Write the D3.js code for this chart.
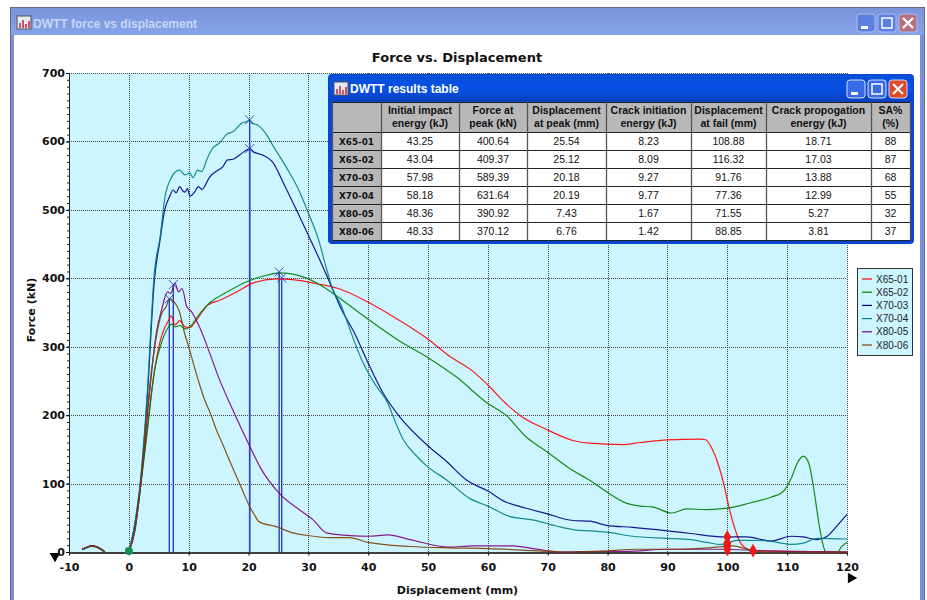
<!DOCTYPE html>
<html><head><meta charset="utf-8">
<style>html,body{margin:0;padding:0;background:#fff}svg{display:block}</style>
<script src="https://cdn.jsdelivr.net/npm/d3@7"></script></head><body>
<svg id="c" width="927" height="600"></svg>
<script>
const seriesNames = ["X65-01","X65-02","X70-03","X70-04","X80-05","X80-06"];
const seriesColors = ["#ff0000","#008000","#000080","#008080","#800080","#804000"];
const preload = [[-7.8,4],[-7,7],[-6.2,9],[-5.5,8],[-4.8,5],[-4,0]];
const x6501 = [[0,0],[1,35],[2,100],[3,175],[4,247],[5.2,307],[6,328],[6.5,336],[7.1,345],[7.7,332],[8.5,338],[9.4,329],[10.2,328],[11.3,339],[13.2,361],[15.2,368],[18,380],[20.7,393],[24.7,399],[27.4,398],[31.4,392],[35,385],[40,365],[45.3,338],[50,311],[53.6,286],[57.5,264],[60,244],[63,217],[65.3,200],[69.8,179],[74.2,163],[77,159],[82.6,157],[85.4,160],[90,164],[95.5,165],[96.4,164],[97.5,150],[98.6,125],[99.5,96],[100,76],[101.2,36],[102.3,12],[104.3,2],[110,1],[120,0]];
const x6502 = [[0,0],[1,35],[2,98],[3,170],[4.3,266],[5.5,307],[6.5,327],[7.2,333],[7.7,329],[8.5,331],[9.5,326],[10.5,332],[11.9,349],[13.5,364],[16.4,380],[19.7,395],[22.4,403],[25.2,408],[28,405],[31.4,393],[32.9,385],[40,340],[45.3,308],[50,284],[54.7,256],[60,217],[63,200],[66.4,168],[69.8,147],[74.2,119],[77,105],[79.8,88],[83.2,71],[85.4,67],[87.4,66],[90.7,57],[93.2,63],[96.6,62],[100,64],[103.9,72],[107.3,80],[109.3,88],[110.7,108],[111.7,130],[112.7,140],[113.6,130],[114.4,95],[115.3,42],[116.1,7],[116.5,0],[118.5,0],[119,7],[120,14]];
const x7003 = [[0,0],[1,40],[2,105],[3,215],[4.3,400],[5.2,455],[6,500],[6.8,519],[7.4,529],[7.9,525],[8.5,534],[9,528],[9.4,526],[9.8,531],[10.2,520],[11,526],[11.6,534],[12.2,530],[13.5,548],[14.9,558],[15.6,562],[16.5,573],[17.4,574],[18.5,580],[19.4,586],[20.2,589],[21,584],[22.4,580],[24,570],[26,536],[28,500],[30.2,459],[32,425],[34,385],[35.5,355],[37.7,320],[40,276],[42.5,232],[45.3,197],[50,155],[53,133],[56.3,106],[60,89],[63,73],[66.4,64],[69.8,56],[74.2,46],[77,45],[79.8,39],[84.2,36],[89.9,31],[93.9,27],[99.5,22],[103.3,22],[107.3,16],[110.7,23],[112.7,22],[115,18],[116.7,23],[118.4,39],[120,55]];
const x7004 = [[0,0],[1,42],[2,110],[3,222],[4.3,412],[5.2,459],[6,517],[7.1,547],[7.7,555],[8.5,558],[9.4,551],[10.2,554],[10.7,547],[11.5,558],[12.2,556],[13,573],[14,590],[15.2,598],[16.4,611],[17.4,614],[18.9,627],[19.7,629],[20.2,632],[20.5,627],[21.5,624],[23,610],[24,595],[26.4,561],[28.6,525],[30,495],[31.6,459],[33,415],[34,385],[35.5,360],[36.9,326],[38.9,281],[41,247],[43.3,217],[44.4,193],[45.8,165],[48,141],[50,124],[53,106],[57,78],[60,67],[63.6,52],[67.5,47],[71.4,38],[74.8,32],[77,31],[79.8,29],[84.2,23],[89.9,20],[93.9,18],[96.6,14],[98.9,11],[101.7,17],[105,17],[107,16],[110.7,11],[112.7,13],[115,20],[120,19]];
const x8005 = [[0,0],[1,30],[2,100],[3,190],[3.8,262],[4.6,320],[5.5,355],[6.5,380],[7,378],[7.7,393],[8.3,380],[8.9,385],[9.7,358],[10.4,352],[11.9,327],[13.5,291],[15.1,253],[17.3,209],[19.8,162],[22,123],[25.1,86],[28.6,61],[30.8,47],[33,28],[37,24],[40,23],[43.3,25],[47,18],[53.6,7],[57.5,9],[64.2,9],[67.5,5],[72,0],[78.7,1],[83,1],[90,4],[99.5,4],[105,2],[110,1],[120,0]];
const x8006 = [[0,0],[1,32],[2,100],[3,200],[3.8,266],[4.5,310],[5.5,349],[6.2,358],[6.8,370],[7.7,364],[8.5,350],[9.3,320],[10,300],[10.9,272],[11.7,248],[12.6,224],[13.7,201],[14.6,179],[15.7,157],[17,130],[18.7,96],[20.1,68],[21,54],[21.8,44],[24.6,37],[27.4,28],[30,24],[33.5,21],[36.9,21],[40,14],[47,8],[53.6,6],[60,5],[67.5,2],[73,0],[78.7,1],[85,4],[92,4],[97,6],[101,9],[103,5],[106,0],[120,0]];
const seriesData = [x6501,x6502,x7003,x7004,x8005,x8006];

const peakX = [25.54,25.12,20.18,20.19,7.43,6.76];
const peakY = [400.64,409.37,589.39,631.64,390.92,370.12];
const startX = [0];
const startY = [0];
const failX = [100,100,100,100,104.3];
const failY = [4,9,13,22,2];

const xTicks = d3.range(-10,121,10);
const yTicks = d3.range(0,701,100);
const yMinor = d3.range(0,701,10);
const tableHeaders = [["",""],["Initial impact","energy (kJ)"],["Force at","peak (kN)"],["Displacement","at peak (mm)"],["Crack initiation","energy (kJ)"],["Displacement","at fail (mm)"],["Crack propogation","energy (kJ)"],["SA%","(%)"]];
const tableRows = [
 ["X65-01","43.25","400.64","25.54","8.23","108.88","18.71","88"],
 ["X65-02","43.04","409.37","25.12","8.09","116.32","17.03","87"],
 ["X70-03","57.98","589.39","20.18","9.27","91.76","13.88","68"],
 ["X70-04","58.18","631.64","20.19","9.77","77.36","12.99","55"],
 ["X80-05","48.36","390.92","7.43","1.67","71.55","5.27","32"],
 ["X80-06","48.33","370.12","6.76","1.42","88.85","3.81","37"]];

const svg = d3.select("#c");
const FONT = "'DejaVu Sans',sans-serif";
const LIB = "'Liberation Sans',sans-serif";
const defs = svg.append("defs");
const g1 = defs.append("linearGradient").attr("id","tb").attr("x1",0).attr("x2",0).attr("y1",0).attr("y2",1);
g1.append("stop").attr("offset",0).attr("stop-color","#7a94dc");
g1.append("stop").attr("offset",1).attr("stop-color","#85a4e8");
const g2 = defs.append("linearGradient").attr("id","tb2").attr("x1",0).attr("x2",0).attr("y1",0).attr("y2",1);
g2.append("stop").attr("offset",0).attr("stop-color","#0a4fd8");
g2.append("stop").attr("offset",.5).attr("stop-color","#0550e6");
g2.append("stop").attr("offset",1).attr("stop-color","#0a3fc0");

// outer window
svg.append("rect").attr("x",10).attr("y",7).attr("width",915).attr("height",600).attr("fill","#7d8fd8").attr("rx",2);
svg.append("rect").attr("x",10.5).attr("y",7.5).attr("width",914).attr("height",600).attr("fill","none").attr("stroke","#666a80");
svg.append("rect").attr("x",11).attr("y",8).attr("width",913).attr("height",27).attr("fill","url(#tb)");
svg.append("rect").attr("x",14).attr("y",35).attr("width",906).attr("height",570).attr("fill","#fff");

function icon(x,y){
  svg.append("rect").attr("x",x).attr("y",y).attr("width",14).attr("height",13).attr("fill","#e8e8f0").attr("stroke","#555");
  svg.append("path").attr("d",`M${x+3} ${y+12}V${y+7}M${x+6} ${y+12}V${y+4}M${x+9} ${y+12}V${y+8}M${x+12} ${y+12}V${y+5}`).attr("stroke","#c02040").attr("stroke-width",1.5);
}
function buttons(xs,y,s,colors){
  xs.forEach((x,i)=>{
    svg.append("rect").attr("x",x).attr("y",y).attr("width",s).attr("height",s).attr("rx",3).attr("fill",colors[i]).attr("stroke",colors[3]);
    if(i==0) svg.append("rect").attr("x",x+4).attr("y",y+s-6).attr("width",7).attr("height",3).attr("fill","#fff");
    if(i==1) svg.append("rect").attr("x",x+4).attr("y",y+4).attr("width",s-8).attr("height",s-8).attr("fill","none").attr("stroke","#fff").attr("stroke-width",1.5);
    if(i==2) svg.append("path").attr("d",`M${x+4} ${y+4}L${x+s-4} ${y+s-4}M${x+s-4} ${y+4}L${x+4} ${y+s-4}`).attr("stroke","#fff").attr("stroke-width",2.2);
  });
}
icon(17,16);
svg.append("text").attr("x",33).attr("y",27.5).attr("font-family",LIB).attr("font-size",12).attr("font-weight","bold").attr("fill","#c8d6f6").text("DWTT force vs displacement");
buttons([857,878,899],14,18,["#5c7fe0","#5c7fe0","#b8707f","#a9bcf0"]);

// chart
const x = d3.scaleLinear().domain([-10,120]).range([69,847]);
const y = d3.scaleLinear().domain([0,700]).range([552,73]);
svg.append("rect").attr("x",x(-10)).attr("y",y(700)).attr("width",x(120)-x(-10)).attr("height",y(0)-y(700)).attr("fill","#ccf5ff");
const grid = svg.append("g").attr("stroke","#444").attr("stroke-dasharray","1 1").attr("stroke-width",1);
grid.selectAll(".v").data(xTicks.slice(1)).join("line").attr("x1",d=>Math.round(x(d))+.5).attr("x2",d=>Math.round(x(d))+.5).attr("y1",y(700)).attr("y2",y(0));
grid.selectAll(".h").data(yTicks.slice(1)).join("line").attr("x1",x(-10)).attr("x2",x(120)).attr("y1",d=>Math.round(y(d))+.5).attr("y2",d=>Math.round(y(d))+.5);

const axB = svg.append("g").attr("transform",`translate(0,${y(0)+.5})`).call(d3.axisBottom(x).tickValues(xTicks).tickFormat(d=>String(d)).tickSize(3).tickSizeOuter(0));
axB.select(".domain").attr("stroke","#000").attr("stroke-width",1.4);
axB.selectAll("text").attr("font-family",FONT).attr("font-size",11).attr("font-weight","bold").attr("fill","#111").attr("y",11);
axB.selectAll("line").attr("stroke","#000");
const axLm = svg.append("g").attr("transform",`translate(${x(-10)},0)`).call(d3.axisLeft(y).tickValues(yMinor).tickFormat("").tickSize(2).tickSizeOuter(0));
axLm.select(".domain").attr("stroke","#222");
axLm.selectAll("line").attr("stroke","#222");
const axL = svg.append("g").attr("transform",`translate(${x(-10)},0)`).call(d3.axisLeft(y).tickValues(yTicks).tickFormat(d3.format("d")).tickSize(3).tickSizeOuter(0));
axL.select(".domain").attr("stroke","#222");
axL.selectAll("text").attr("font-family",FONT).attr("font-size",11).attr("font-weight","bold").attr("fill","#111").attr("x",-4);
axL.selectAll("line").attr("stroke","#000");

// peak drop lines
svg.append("g").selectAll("line").data(peakX).join("line").attr("x1",d=>x(d)).attr("x2",d=>x(d)).attr("y1",y(0)).attr("y2",(d,i)=>y(peakY[i])).attr("stroke","#2f3fb8").attr("stroke-width",1.4);

// curves
const line = d3.line().x(d=>x(d[0])).y(d=>y(d[1])).curve(d3.curveMonotoneX);
svg.append("g").selectAll("path.s").data(seriesData).join("path").attr("fill","none").attr("stroke",(d,i)=>seriesColors[i]).attr("stroke-width",1.2).attr("opacity",.9).attr("d",d=>line(d));
svg.append("g").selectAll("path.p").data(seriesColors).join("path").attr("fill","none").attr("stroke",d=>d).attr("stroke-width",1.1).attr("d",(d,i)=>line(preload.map(p=>[p[0],p[1]-(i==3?1:0)])));

// peak crosses
const sym = d3.symbol().type(d3.symbolX).size(55);
svg.append("g").selectAll("path").data(peakX).join("path").attr("d",sym).attr("transform",(d,i)=>`translate(${x(d)},${y(peakY[i])})`).attr("fill","none").attr("stroke","#2f3fb8").attr("stroke-width",.9);
// start and fail markers
svg.append("g").selectAll("circle").data(startX).join("circle").attr("cx",d=>x(d)).attr("cy",(d,i)=>y(startY[i])-1).attr("r",4).attr("fill","#109050");
const dia = d3.symbol().type(d3.symbolDiamond).size(55);
svg.append("g").selectAll("path").data(failX).join("path").attr("d",dia).attr("transform",(d,i)=>`translate(${x(d)},${y(failY[i])})`).attr("fill","#f01818");

// axis decorations
svg.append("path").attr("d",d3.symbol().type(d3.symbolTriangle).size(50)).attr("transform","translate(55,556) rotate(180)").attr("fill","#000");
svg.append("path").attr("d",d3.symbol().type(d3.symbolTriangle).size(50)).attr("transform","translate(851,578) rotate(90)").attr("fill","#000");

svg.append("text").attr("x",457).attr("y",62).attr("text-anchor","middle").attr("font-family",FONT).attr("font-size",13).attr("font-weight","bold").attr("fill","#111").text("Force vs. Displacement");
svg.append("text").attr("x",457.5).attr("y",594).attr("text-anchor","middle").attr("font-family",FONT).attr("font-size",11).attr("font-weight","bold").attr("fill","#111").text("Displacement (mm)");
svg.append("text").attr("transform","translate(35,310) rotate(-90)").attr("text-anchor","middle").attr("font-family",FONT).attr("font-size",11).attr("font-weight","bold").attr("fill","#111").text("Force (kN)");

// legend
svg.append("rect").attr("x",857.5).attr("y",268.5).attr("width",55).attr("height",87).attr("fill","#ccf5ff").attr("stroke","#333");
const leg = svg.append("g").selectAll("g").data(seriesNames).join("g").attr("transform",(d,i)=>`translate(0,${279+i*13.2})`);
leg.append("line").attr("x1",862).attr("x2",872).attr("stroke",(d,i)=>seriesColors[i]).attr("stroke-width",1.2);
leg.append("text").attr("x",876).attr("y",3.5).attr("font-family",LIB).attr("font-size",10).attr("fill","#222").text(d=>d);

// results table window
svg.append("rect").attr("x",328).attr("y",74).attr("width",586).attr("height",170).attr("rx",4).attr("fill","#0a45d0");
svg.append("rect").attr("x",329).attr("y",75).attr("width",584).attr("height",27).attr("rx",3).attr("fill","url(#tb2)");
icon(334,82);
svg.append("text").attr("x",350).attr("y",93).attr("font-family",LIB).attr("font-size",12).attr("font-weight","bold").attr("fill","#fff").text("DWTT results table");
buttons([847,868,889],80,18,["#3a6ae8","#3a6ae8","#e04a28","#cfdcfa"]);

const colEdges = [332,381,459,527,606,691,766,871,910];
const rowEdges = [102,132,150,168,186,204,222,240];
const tb = svg.append("g");
tb.append("rect").attr("x",332).attr("y",102).attr("width",578).attr("height",138).attr("fill","#fff");
tb.append("rect").attr("x",332).attr("y",102).attr("width",578).attr("height",30).attr("fill","#b8b8b8");
tb.append("rect").attr("x",332).attr("y",102).attr("width",49).attr("height",138).attr("fill","#b8b8b8");
tb.selectAll(".hl").data(rowEdges).join("line").attr("y1",d=>d+.5).attr("y2",d=>d+.5).attr("x1",332).attr("x2",910).attr("stroke","#222");
tb.selectAll(".vl").data(colEdges).join("line").attr("x1",d=>d+.5).attr("x2",d=>d+.5).attr("y1",102).attr("y2",240).attr("stroke","#555").attr("stroke-width",1.3);
const colMid = i=>(colEdges[i]+colEdges[i+1])/2;
tableHeaders.forEach((h,i)=>{
  h.forEach((s,j)=>tb.append("text").attr("x",colMid(i)).attr("y",114+j*13).attr("text-anchor","middle").attr("font-family",LIB).attr("font-size",10.5).attr("font-weight","bold").attr("fill","#111").text(s));
});
tableRows.forEach((r,ri)=>{
  r.forEach((s,i)=>tb.append("text").attr("x",colMid(i)).attr("y",145+ri*18).attr("text-anchor","middle").attr("font-family",i==0?FONT:LIB).attr("font-size",i==0?8.8:10.5).attr("font-weight",i==0?"bold":"normal").attr("fill","#111").text(s));
});
</script></body></html>
